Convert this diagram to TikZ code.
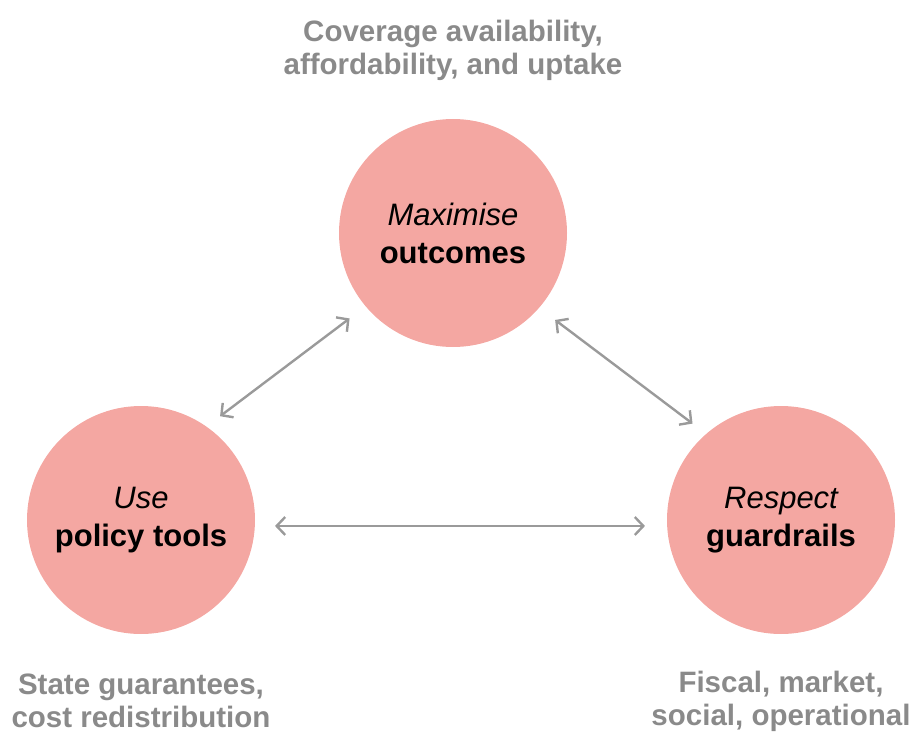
\documentclass[tikz,border=0pt]{standalone}
\usepackage{fontspec}
\setmainfont{Liberation Sans}
\usetikzlibrary{arrows.meta}

\definecolor{goalpink}{HTML}{F4A7A2}
\definecolor{notegrey}{HTML}{8A8A8A}
\definecolor{linkgrey}{HTML}{9A9A9A}

\tikzset{
  goal/.style={circle, fill=goalpink, minimum size=228pt, inner sep=0pt},
  goaltext/.style={align=center, font=\fontsize{31}{38}\selectfont},
  note/.style={align=center, text=notegrey, font=\fontsize{29.5}{33}\selectfont\bfseries},
  link/.style={draw=linkgrey, line width=2.4pt, {Straight Barb[length=8.5pt,width=18pt]}-{Straight Barb[length=8.5pt,width=18pt]}}
}

\begin{document}
\begin{tikzpicture}[x=1pt,y=-1pt]
\useasboundingbox (0,0) rectangle (913,733);

\node[goal] (max) at (453,233) {};
\node[goal] (use) at (141,520) {};
\node[goal] (resp) at (781,520) {};

\node[goaltext] (maxt) at (max) {\itshape Maximise\\\textbf{outcomes}};
\node[goaltext] (uset) at (use) {\itshape Use\\\textbf{policy tools}};
\node[goaltext] (respt) at (resp) {\itshape Respect\\\textbf{guardrails}};

\node[note] (maxn) at (453,50) {Coverage availability,\\affordability, and uptake};
\node[note] (usen) at (141,701) {State guarantees,\\cost redistribution};
\node[note] (respn) at (781,701) {Fiscal, market,\\social, operational};

\draw[link, shorten <=17pt, shorten >=20pt] (use.55) -- (max.220);
\draw[link, shorten <=20pt, shorten >=17pt] (max.319) -- (resp.131);
\draw[link, shorten <=20pt, shorten >=22pt] (use.-3) -- (resp.183);
\end{tikzpicture}
\end{document}
